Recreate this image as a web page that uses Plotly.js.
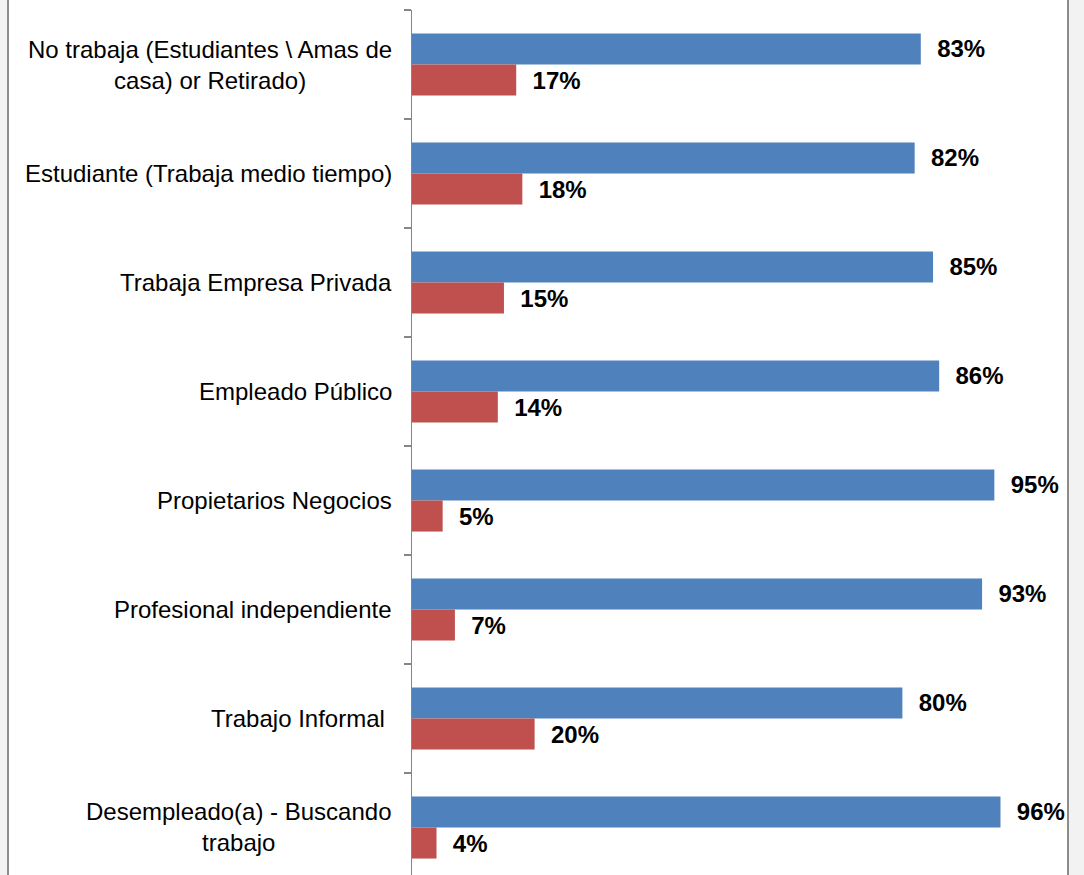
<!DOCTYPE html>
<html>
<head>
<meta charset="utf-8">
<script src="https://cdn.plot.ly/plotly-3.0.1.min.js"></script>
<style>
html,body{margin:0;padding:0;background:#f2f2f2;overflow:hidden}
#chart{width:1084px;height:875px}
</style>
</head>
<body>
<div id="chart"></div>
<script>
// ---- Data ----
const categories = [
  "No trabaja (Estudiantes \\ Amas de casa) or Retirado)",
  "Estudiante (Trabaja medio tiempo)",
  "Trabaja Empresa Privada",
  "Empleado Público",
  "Propietarios Negocios",
  "Profesional independiente",
  "Trabajo Informal",
  "Desempleado(a) - Buscando trabajo"
];
const categoryLabels = [
  "No trabaja (Estudiantes \\ Amas de<br>casa) or Retirado)",
  "Estudiante (Trabaja medio tiempo)",
  "Trabaja Empresa Privada",
  "Empleado Público",
  "Propietarios Negocios",
  "Profesional independiente",
  "Trabajo Informal&nbsp;",
  "Desempleado(a) - Buscando<br>trabajo"
];
const siValues = [83, 82, 85, 86, 95, 93, 80, 96];
const noValues = [17, 18, 15, 14, 5, 7, 20, 4];

// ---- Styles ----
const FONT = '"Liberation Sans", Arial, Helvetica, sans-serif';
const BLUE = '#4F81BD';
const RED = '#C0504D';
const AXIS = '#868686';

const fmt = v => '\u00a0\u00a0' + v + '%';

const traces = [
  {
    type: 'bar', orientation: 'h', name: 'Sí',
    y: categories, x: siValues,
    marker: {color: BLUE},
    text: siValues.map(fmt), textposition: 'outside', cliponaxis: false,
    constraintext: 'none',
    textfont: {family: FONT, size: 24, color: '#000000', weight: 'bold'},
    hoverinfo: 'x+y'
  },
  {
    type: 'bar', orientation: 'h', name: 'No',
    y: categories, x: noValues,
    marker: {color: RED},
    text: noValues.map(fmt), textposition: 'outside', cliponaxis: false,
    constraintext: 'none',
    textfont: {family: FONT, size: 24, color: '#000000', weight: 'bold'},
    hoverinfo: 'x+y'
  }
];

const L = 412, W = 613;
const px2paper = p => (p - L) / W;

const annotations = categoryLabels.map((lab, i) => ({
  xref: 'paper', x: 0, xanchor: 'right', xshift: -18,
  yref: 'y', y: i, yanchor: 'middle',
  text: lab, showarrow: false, align: 'center',
  font: {family: FONT, size: 24, color: '#000000'}
}));

const layout = {
  width: 1084, height: 875,
  margin: {l: L, r: 1084 - L - W, t: 10, b: 0, pad: 0},
  paper_bgcolor: '#f2f2f2',
  plot_bgcolor: 'rgba(0,0,0,0)',
  showlegend: false,
  barmode: 'group',
  bargap: 0.43,
  bargroupgap: 0,
  font: {family: FONT, size: 24, color: '#000000'},
  xaxis: {
    range: [0, 100], visible: false, showgrid: false, zeroline: false, fixedrange: true
  },
  yaxis: {
    type: 'category', range: [7.436, -0.5],
    showline: true, linecolor: AXIS, linewidth: 1.5,
    ticks: 'outside', tickson: 'boundaries', ticklen: 7, tickcolor: AXIS, tickwidth: 1.5,
    showticklabels: false, showgrid: false, zeroline: false, fixedrange: true
  },
  shapes: [
    {type: 'rect', layer: 'below', xref: 'paper', yref: 'paper',
     x0: px2paper(8), x1: px2paper(1068), y0: -0.2, y1: 1.2,
     fillcolor: '#ffffff', line: {width: 0}},
    {type: 'line', layer: 'below', xref: 'paper', yref: 'paper',
     x0: px2paper(8), x1: px2paper(8), y0: -0.2, y1: 1.2,
     line: {color: '#8c8c8c', width: 2}},
    {type: 'line', layer: 'below', xref: 'paper', yref: 'paper',
     x0: px2paper(1068), x1: px2paper(1068), y0: -0.2, y1: 1.2,
     line: {color: '#8c8c8c', width: 2}}
  ],
  annotations: annotations
};

Plotly.newPlot('chart', traces, layout, {displayModeBar: false, staticPlot: true});
</script>
</body>
</html>
